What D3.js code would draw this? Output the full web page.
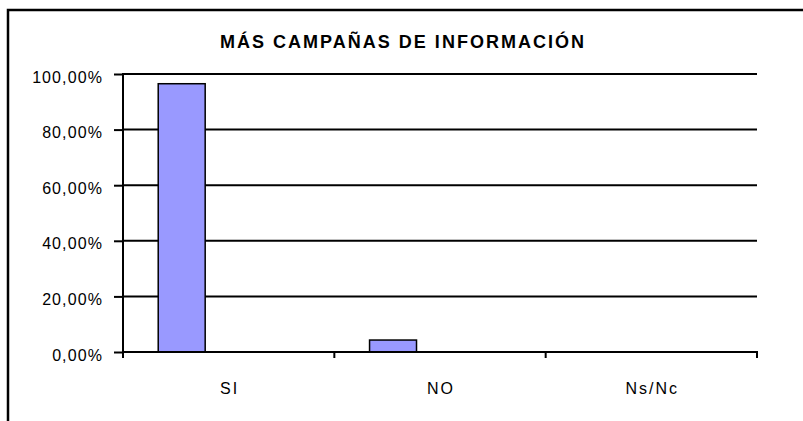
<!DOCTYPE html>
<html>
<head>
<meta charset="utf-8">
<script src="https://cdn.jsdelivr.net/npm/d3@7"></script>
<style>
  body { margin: 0; background: #fff; }
  text { font-family: "Liberation Sans", Arial, sans-serif; fill: #000; }
</style>
</head>
<body>
<svg width="803" height="421"></svg>
<script>
const title = 'MÁS CAMPAÑAS DE INFORMACIÓN';
const categories = ['SI', 'NO', 'Ns/Nc'];
// three series slots per category (Excel layout), only the first one has values
const seriesNames = ['Serie1', 'Serie2', 'Serie3'];
const serie1 = [96.5, 4.3, 0];
const yTicks = [0, 20, 40, 60, 80, 100];

const svg = d3.select('svg');

const plot = {left: 123, right: 757, top: 74, bottom: 352};

// outer frame (runs past the bottom/right edge of the window)
svg.append('rect')
  .attr('x', 8).attr('y', 10)
  .attr('width', 820).attr('height', 440)
  .attr('fill', 'none')
  .attr('stroke', '#000')
  .attr('stroke-width', 2.5);

svg.append('text')
  .attr('x', 402)
  .attr('y', 48)
  .attr('text-anchor', 'middle')
  .attr('font-size', 18)
  .attr('font-weight', 'bold')
  .attr('font-family', '"Liberation Sans Narrow", "Liberation Sans", Arial, sans-serif')
  .attr('textLength', 364)
  .attr('lengthAdjust', 'spacing')
  .text(title);

const xScale = d3.scaleBand()
  .domain(categories)
  .range([plot.left, plot.right])
  .padding(0);

const slotScale = d3.scaleBand()
  .domain(seriesNames)
  .range([0, xScale.bandwidth()])
  .paddingInner(0)
  .paddingOuter(0.75);

const yScale = d3.scaleLinear()
  .domain([0, 100])
  .range([plot.bottom, plot.top]);

// gridlines
svg.append('g')
  .selectAll('line')
  .data(yTicks)
  .join('line')
  .attr('x1', plot.left).attr('x2', plot.right)
  .attr('y1', d => yScale(d)).attr('y2', d => yScale(d))
  .attr('stroke', '#000')
  .attr('stroke-width', 2);

// bars
svg.append('g')
  .selectAll('rect')
  .data(serie1.map((v, i) => ({cat: categories[i], v})).filter(d => d.v > 0))
  .join('rect')
  .attr('x', d => xScale(d.cat) + slotScale('Serie1'))
  .attr('y', d => yScale(d.v))
  .attr('width', slotScale.bandwidth())
  .attr('height', d => yScale(0) - yScale(d.v))
  .attr('fill', '#9999FF')
  .attr('stroke', '#000')
  .attr('stroke-width', 1.5);

// y axis
const yAxis = d3.axisLeft(yScale)
  .tickValues(yTicks)
  .tickSize(9)
  .tickPadding(11)
  .tickFormat(d => d.toFixed(2).replace('.', ',') + '%');

const yAxisG = svg.append('g')
  .attr('transform', `translate(${plot.left},0)`)
  .call(yAxis);
yAxisG.selectAll('.domain').attr('stroke-width', 2).attr('d', `M0,${plot.top - 1}V${plot.bottom + 1}`);
yAxisG.selectAll('.tick line').attr('stroke-width', 2);
yAxisG.selectAll('.tick text')
  .attr('font-size', 16)
  .attr('font-family', '"Liberation Sans", Arial, sans-serif')
  .attr('letter-spacing', 1.1)
  .attr('fill', '#000')
  .attr('dy', '0.5em');

// x axis: ticks at category boundaries
const bounds = categories.map(c => xScale(c)).concat([plot.right]);
svg.append('g')
  .selectAll('line')
  .data(bounds)
  .join('line')
  .attr('x1', d => d).attr('x2', d => d)
  .attr('y1', plot.bottom).attr('y2', plot.bottom + 6)
  .attr('stroke', '#000')
  .attr('stroke-width', 2);

svg.append('line')
  .attr('x1', plot.left - 1).attr('x2', plot.right + 1)
  .attr('y1', plot.bottom).attr('y2', plot.bottom)
  .attr('stroke', '#000')
  .attr('stroke-width', 2);

svg.append('g')
  .selectAll('text')
  .data(categories)
  .join('text')
  .attr('x', d => xScale(d) + xScale.bandwidth() / 2 + 1)
  .attr('y', 394)
  .attr('text-anchor', 'middle')
  .attr('font-size', 16)
  .attr('letter-spacing', 2)
  .text(d => d);
</script>
</body>
</html>
